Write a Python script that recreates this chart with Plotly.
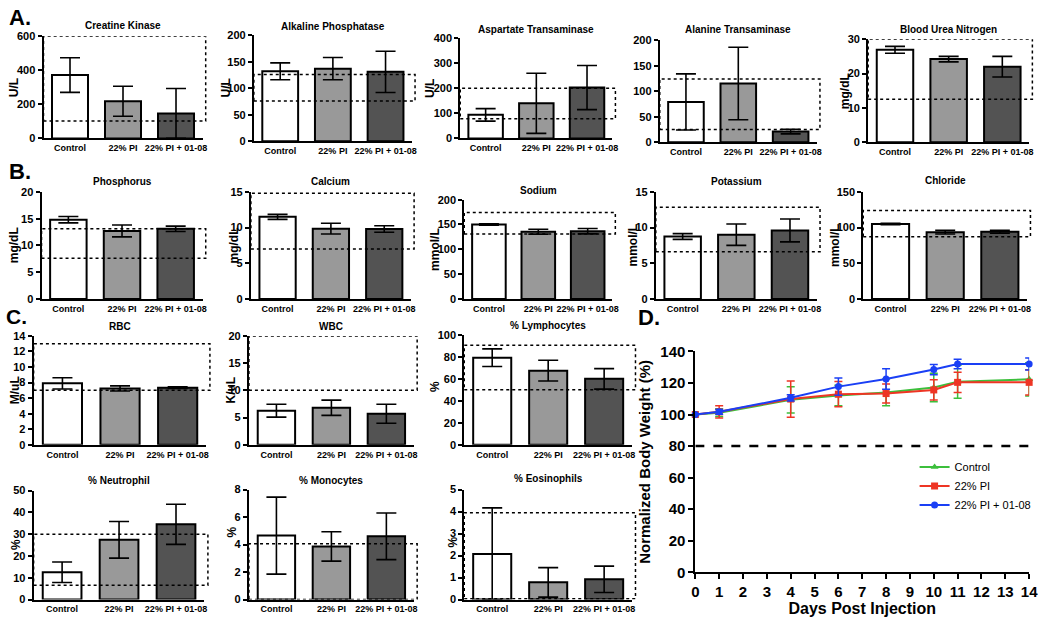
import plotly.graph_objects as go

W, H = 1050, 626
FONT = "Liberation Sans, Arial, sans-serif"

categories = ["Control", "22% PI", "22% PI + 01-08"]

# ---- Panel A ----
ck_mean = [372, 218, 146]
ck_err = [102, 88, 147]
ck_ref = [102, 600]

alp_mean = [132, 137, 131]
alp_err = [16, 21, 39]
alp_ref = [76, 126]

ast_mean = [94, 140, 203]
ast_err = [25, 120, 88]
ast_ref = [78, 200]

alt_mean = [79, 115, 21]
alt_err = [55, 71, 4.5]
alt_ref = [25, 124]

bun_mean = [26.9, 24.2, 22.0]
bun_err = [1.0, 0.8, 3.0]
bun_ref = [12.5, 30]

# ---- Panel B ----
phos_mean = [14.8, 12.7, 13.1]
phos_err = [0.6, 1.1, 0.5]
phos_ref = [7.6, 13.1]

ca_mean = [11.5, 9.85, 9.8]
ca_err = [0.35, 0.75, 0.45]
ca_ref = [7.0, 14.8]

na_mean = [150, 135.5, 136.5]
na_err = [1.5, 5, 5.5]
na_ref = [131, 174]

k_mean = [8.75, 9.0, 9.6]
k_err = [0.4, 1.5, 1.6]
k_ref = [6.6, 12.85]

cl_mean = [105, 93.5, 94]
cl_err = [1.0, 2.5, 2.0]
cl_ref = [87, 124]

# ---- Panel C ----
rbc_mean = [7.9, 7.25, 7.35]
rbc_err = [0.72, 0.33, 0.12]
rbc_ref = [7.0, 13.0]

wbc_mean = [6.27, 6.8, 5.7]
wbc_err = [1.18, 1.4, 1.75]
wbc_ref = [10, 20]

lym_mean = [79.3, 67.5, 60]
lym_err = [8, 9.5, 9.3]
lym_ref = [50, 90.5]

neu_mean = [12.5, 27.4, 34.5]
neu_err = [4.7, 8.4, 9.2]
neu_ref = [6.5, 30]

mono_mean = [4.65, 3.86, 4.6]
mono_err = [2.8, 1.07, 1.7]
mono_ref = [0.0, 4.05]

eos_mean = [2.07, 0.78, 0.92]
eos_err = [2.1, 0.67, 0.6]
eos_ref = [0.03, 3.95]

# ---- Panel D ----
days = [0, 1, 4, 6, 8, 10, 11, 14]
ctrl_bw = [100, 101.2, 109.3, 112.1, 114.0, 117.1, 120.8, 122.3]
ctrl_bw_err = [0, 2.5, 8.3, 6.5, 8.5, 9.0, 10.5, 10.5]
pi_bw = [100, 101.7, 109.8, 112.9, 113.3, 115.6, 120.4, 120.4]
pi_bw_err = [0, 3.9, 11.5, 8.0, 6.0, 6.4, 6.4, 8.0]
pi0108_bw = [100, 101.7, 110.6, 117.7, 122.5, 128.5, 132.0, 132.0]
pi0108_bw_err = [0, 1.5, 2.0, 5.5, 6.5, 3.2, 3.0, 3.8]
bw_threshold = 80

bar_colors = ["#ffffff", "#999999", "#535353"]

# layout spec: (title, mean, err, ref, ymax, dtick, ytitle, [left,right,top,bottom] px,
#               title_y px, ytitle_x px, ytitle_y px or None)
panels = [
    ("Creatine Kinase", ck_mean, ck_err, ck_ref, 600, 200, "U/L", [40, 201, 28, 133], 17, 10, None),
    ("Alkaline Phosphatase", alp_mean, alp_err, alp_ref, 200, 50, "U/L", [253, 413, 27, 136], 18, 225, None),
    ("Aspartate Transaminase", ast_mean, ast_err, ast_ref, 400, 100, "U/L", [462, 616, 30, 133], 21, 432, None),
    ("Alanine Transaminase", alt_mean, alt_err, alt_ref, 200, 50, "", [664, 823, 32, 137], 21, 0, None),
    ("Blood Urea Nitrogen", bun_mean, bun_err, bun_ref, 30, 10, "mg/dL", [875, 1038, 31, 137], 21, 851, None),
    ("Phosphorus", phos_mean, phos_err, phos_ref, 20, 5, "mg/dL", [38, 201, 188, 298], 177, 11, None),
    ("Calcium", ca_mean, ca_err, ca_ref, 15, 5, "mg/dL", [250, 412, 188, 298], 177, 233, None),
    ("Sodium", na_mean, na_err, na_ref, 200, 50, "mmol/L", [466, 616, 196, 298], 187, 437, None),
    ("Potassium", k_mean, k_err, k_ref, 15, 5, "mmol/L", [660, 823, 188, 298], 177, 637, None),
    ("Chloride", cl_mean, cl_err, cl_ref, 150, 50, "mmol/L", [870, 1036, 188, 298], 176, 842, None),
    ("RBC", rbc_mean, rbc_err, rbc_ref, 14, 2, "M/uL", [30, 205, 336, 448], 326, 11, None),
    ("WBC", wbc_mean, wbc_err, wbc_ref, 20, 5, "K/uL", [248, 415, 336, 448], 326, 230, None),
    ("% Lymphocytes", lym_mean, lym_err, lym_ref, 100, 20, "%", [466, 636, 335, 448], 325, 437, 388),
    ("% Neutrophil", neu_mean, neu_err, neu_ref, 50, 10, "%", [30, 203, 495, 607], 485, 12, 550),
    ("% Monocytes", mono_mean, mono_err, mono_ref, 8, 2, "%", [248, 415, 494, 607], 485, 231, 538),
    ("% Eosinophils", eos_mean, eos_err, eos_ref, 5, 1, "%", [466, 636, 494, 607], 483, 455, 548),
]


def px_x(p):
    return p / W


def px_y(p):
    return 1 - p / H


def ax_id(i):
    return "" if i == 1 else str(i)


fig = go.Figure()
layout = {}
annotations = []
shapes = []

for i, (title, mean, err, ref, ymax, dtick, ytitle, box, ty, ytx, yty) in enumerate(panels, start=1):
    l, r, t, b = box
    s = ax_id(i)
    fig.add_trace(go.Bar(
        x=categories, y=mean, width=0.68,
        marker=dict(color=bar_colors, line=dict(color="black", width=2)),
        error_y=dict(type="data", array=err, arrayminus=[min(e, m) for e, m in zip(err, mean)],
                     color="black", thickness=1.6, width=10),
        xaxis=f"x{s}", yaxis=f"y{s}", showlegend=False, cliponaxis=False,
    ))
    layout[f"xaxis{s}"] = dict(
        domain=[px_x(l), px_x(r)], anchor=f"y{s}", type="category", range=[-0.5, 2.5],
        showline=True, linecolor="black", linewidth=2, ticks="", tickangle=0,
        tickfont=dict(family=FONT, size=9, color="black", weight="bold"),
        showgrid=False, zeroline=False, fixedrange=True,
    )
    layout[f"yaxis{s}"] = dict(
        domain=[px_y(b), px_y(t)], anchor=f"x{s}", range=[0, ymax], dtick=dtick, tick0=0,
        showline=True, linecolor="black", linewidth=2, ticks="outside", ticklen=4,
        tickwidth=1.5, tickcolor="black",
        tickfont=dict(family=FONT, size=11, color="black", weight="bold"),
        showgrid=False, zeroline=False, fixedrange=True,
    )
    shapes.append(dict(
        type="rect", xref=f"x{s} domain", yref=f"y{s}", x0=0, x1=1.02, y0=ref[0], y1=ref[1],
        line=dict(color="black", width=1.5, dash="dot"), fillcolor="rgba(0,0,0,0)", layer="above",
    ))
    annotations.append(dict(
        text=f"<b>{title}</b>", x=px_x((l + r) / 2), y=px_y(ty), xref="paper", yref="paper",
        showarrow=False, xanchor="center", yanchor="middle",
        font=dict(family=FONT, size=10, color="black"),
    ))
    if ytitle:
        annotations.append(dict(
            text=f"<b>{ytitle}</b>", x=px_x(ytx), y=px_y(yty if yty else (t + b) / 2),
            xref="paper", yref="paper", showarrow=False, textangle=-90,
            xanchor="center", yanchor="middle",
            font=dict(family=FONT, size=12, color="black"),
        ))

# ---- Panel D ----
nd = str(len(panels) + 1)
series = [
    ("Control", ctrl_bw, ctrl_bw_err, "#3cbf3c", "triangle-up"),
    ("22% PI", pi_bw, pi_bw_err, "#ee3524", "square"),
    ("22% PI + 01-08", pi0108_bw, pi0108_bw_err, "#1a3ff5", "circle"),
]
for name, y, e, col, sym in series:
    fig.add_trace(go.Scatter(
        x=days, y=y, name=name, mode="lines+markers",
        line=dict(color=col, width=2), marker=dict(color=col, size=7, symbol=sym),
        error_y=dict(type="data", array=e, color=col, thickness=1.5, width=4),
        xaxis=f"x{nd}", yaxis=f"y{nd}", cliponaxis=False,
    ))

layout[f"xaxis{nd}"] = dict(
    domain=[px_x(700), px_x(1038)], anchor=f"y{nd}", range=[0, 14], dtick=1, tick0=0,
    showline=True, linecolor="black", linewidth=2, ticks="outside", ticklen=5, tickwidth=2,
    tickcolor="black", tickfont=dict(family=FONT, size=15, color="black", weight="bold"),
    showgrid=False, zeroline=False, fixedrange=True,
    title=dict(text="<b>Days Post Injection</b>", font=dict(family=FONT, size=16, color="black"), standoff=4),
)
layout[f"yaxis{nd}"] = dict(
    domain=[px_y(579), px_y(352)], anchor=f"x{nd}", range=[0, 140], dtick=20, tick0=0,
    showline=True, linecolor="black", linewidth=2, ticks="outside", ticklen=5, tickwidth=2,
    tickcolor="black", tickfont=dict(family=FONT, size=15, color="black", weight="bold"),
    showgrid=False, zeroline=False, fixedrange=True,
    title=dict(text="<b>Normalized Body Weight (%)</b>", font=dict(family=FONT, size=15, color="black"), standoff=6),
)
shapes.append(dict(
    type="line", xref=f"x{nd}", yref=f"y{nd}", x0=0, x1=14, y0=bw_threshold, y1=bw_threshold,
    line=dict(color="black", width=2.5, dash="dash"), layer="below",
))

for letter, x, y, sz in [("A.", 3, -6, 22), ("B.", 3, 152, 22), ("C.", 0, 302, 21), ("D.", 640, 302, 22)]:
    annotations.append(dict(
        text=f"<b>{letter}</b>", x=px_x(x), y=px_y(y), xref="paper", yref="paper",
        showarrow=False, xanchor="left", yanchor="top",
        font=dict(family=FONT, size=sz, color="black"),
    ))

fig.update_layout(
    width=W, height=H, margin=dict(l=0, r=0, t=0, b=0),
    paper_bgcolor="white", plot_bgcolor="white",
    font=dict(family=FONT, color="black"),
    showlegend=True,
    legend=dict(x=px_x(922), y=px_y(456), xanchor="left", yanchor="top",
                bgcolor="rgba(0,0,0,0)", font=dict(family=FONT, size=11, color="black"),
                itemwidth=30, tracegroupgap=0),
    annotations=annotations, shapes=shapes, bargap=0.3,
    **layout,
)

fig.write_html(
    "out.html",
    config={"displayModeBar": False},
    post_script="document.body.style.margin='0';document.body.style.overflow='hidden';",
)
